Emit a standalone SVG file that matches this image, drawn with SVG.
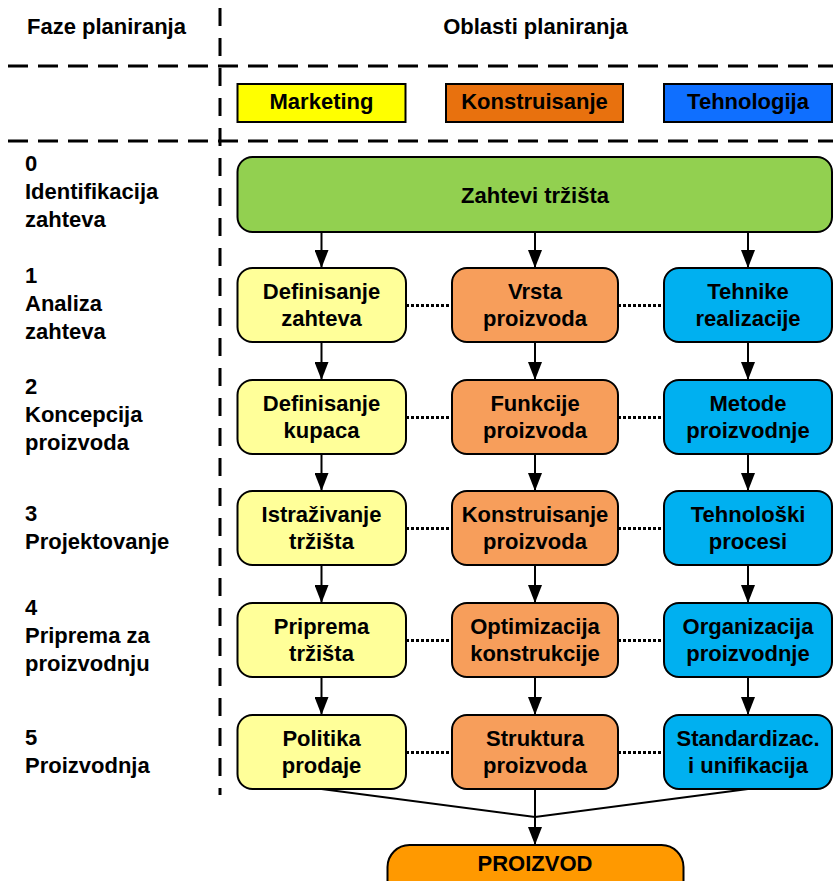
<svg xmlns="http://www.w3.org/2000/svg" width="833" height="881" viewBox="0 0 833 881">
<style>
text{font-family:"Liberation Sans",Arial,sans-serif;font-weight:bold;font-size:22px;fill:#000}
.c{text-anchor:middle}
.box{stroke:#000;stroke-width:2}
.y{fill:#FFFF99}.o{fill:#F79E5B}.b{fill:#00B0F0}
.ln{stroke:#000;stroke-width:2;fill:none}
.dot{stroke:#000;stroke-width:3;stroke-dasharray:3 2;fill:none}
.dash{stroke:#000;stroke-width:3;fill:none}
</style>
<defs>
<marker id="ah" viewBox="0 0 18 14" refX="18" refY="7" markerWidth="18" markerHeight="14" markerUnits="userSpaceOnUse" orient="auto">
<path d="M0,0 L18,7 L0,14 Z" fill="#000"/>
</marker>
</defs>
<rect width="833" height="881" fill="#fff"/>
<g id="grid">
<line class="dash" x1="220" y1="8" x2="220" y2="795" stroke-dasharray="18 12"/>
<line class="dash" x1="8" y1="66" x2="833" y2="66" stroke-dasharray="20 10"/>
<line class="dash" x1="8" y1="141" x2="833" y2="141" stroke-dasharray="20 10"/>
</g>
<g id="headers">
<text class="c" x="106.5" y="34">Faze planiranja</text>
<text class="c" x="535.5" y="34">Oblasti planiranja</text>
</g>
<g id="legend">
<g id="leg-marketing"><rect class="box" x="237.5" y="84" width="168" height="38" fill="#FFFF00"/><text class="c" x="321.5" y="109">Marketing</text></g>
<g id="leg-konstruisanje"><rect class="box" x="446" y="84" width="177" height="38" fill="#E8710E"/><text class="c" x="534.5" y="109">Konstruisanje</text></g>
<g id="leg-tehnologija"><rect class="box" x="664" y="84" width="168" height="38" fill="#0F6FFF"/><text class="c" x="748" y="109">Tehnologija</text></g>
</g>
<g id="phases">
<text x="25" y="171">0</text><text x="25" y="199">Identifikacija</text><text x="25" y="227">zahteva</text>
<text x="25" y="283">1</text><text x="25" y="311">Analiza</text><text x="25" y="339">zahteva</text>
<text x="25" y="394">2</text><text x="25" y="422">Koncepcija</text><text x="25" y="450">proizvoda</text>
<text x="25" y="521">3</text><text x="25" y="549">Projektovanje</text>
<text x="25" y="615">4</text><text x="25" y="643">Priprema za</text><text x="25" y="671">proizvodnju</text>
<text x="25" y="745">5</text><text x="25" y="773">Proizvodnja</text>
</g>
<g id="connectors">
<line class="ln" x1="321.5" y1="232" x2="321.5" y2="268" marker-end="url(#ah)"/>
<line class="ln" x1="535" y1="232" x2="535" y2="268" marker-end="url(#ah)"/>
<line class="ln" x1="748" y1="232" x2="748" y2="268" marker-end="url(#ah)"/>
<line class="ln" x1="321.5" y1="342" x2="321.5" y2="380" marker-end="url(#ah)"/>
<line class="ln" x1="535" y1="342" x2="535" y2="380" marker-end="url(#ah)"/>
<line class="ln" x1="748" y1="342" x2="748" y2="380" marker-end="url(#ah)"/>
<line class="ln" x1="321.5" y1="454" x2="321.5" y2="491" marker-end="url(#ah)"/>
<line class="ln" x1="535" y1="454" x2="535" y2="491" marker-end="url(#ah)"/>
<line class="ln" x1="748" y1="454" x2="748" y2="491" marker-end="url(#ah)"/>
<line class="ln" x1="321.5" y1="565" x2="321.5" y2="603" marker-end="url(#ah)"/>
<line class="ln" x1="535" y1="565" x2="535" y2="603" marker-end="url(#ah)"/>
<line class="ln" x1="748" y1="565" x2="748" y2="603" marker-end="url(#ah)"/>
<line class="ln" x1="321.5" y1="677" x2="321.5" y2="715" marker-end="url(#ah)"/>
<line class="ln" x1="535" y1="677" x2="535" y2="715" marker-end="url(#ah)"/>
<line class="ln" x1="748" y1="677" x2="748" y2="715" marker-end="url(#ah)"/>
<line class="dot" x1="406" y1="305.5" x2="452" y2="305.5"/><line class="dot" x1="618" y1="305.5" x2="664" y2="305.5"/>
<line class="dot" x1="406" y1="417.5" x2="452" y2="417.5"/><line class="dot" x1="618" y1="417.5" x2="664" y2="417.5"/>
<line class="dot" x1="406" y1="528.5" x2="452" y2="528.5"/><line class="dot" x1="618" y1="528.5" x2="664" y2="528.5"/>
<line class="dot" x1="406" y1="640.5" x2="452" y2="640.5"/><line class="dot" x1="618" y1="640.5" x2="664" y2="640.5"/>
<line class="dot" x1="406" y1="752.5" x2="452" y2="752.5"/><line class="dot" x1="618" y1="752.5" x2="664" y2="752.5"/>
<polyline class="ln" points="321.5,789 535,817 748,789"/>
<line class="ln" x1="535" y1="789" x2="535" y2="845" marker-end="url(#ah)"/>
</g>
<g id="n-zahtevi"><rect class="box" x="237.5" y="157" width="594.5" height="75" rx="15" fill="#92D050"/><text class="c" x="535" y="202.5">Zahtevi tržišta</text></g>
<g id="n-r1y"><rect class="box y" x="237.5" y="268" width="168.5" height="74" rx="15"/><text class="c" x="321.5" y="299">Definisanje</text><text class="c" x="321.5" y="326">zahteva</text></g>
<g id="n-r1o"><rect class="box o" x="452" y="268" width="166" height="74" rx="15"/><text class="c" x="535" y="299">Vrsta</text><text class="c" x="535" y="326">proizvoda</text></g>
<g id="n-r1b"><rect class="box b" x="664" y="268" width="168" height="74" rx="15"/><text class="c" x="748" y="299">Tehnike</text><text class="c" x="748" y="326">realizacije</text></g>
<g id="n-r2y"><rect class="box y" x="237.5" y="380" width="168.5" height="74" rx="15"/><text class="c" x="321.5" y="411">Definisanje</text><text class="c" x="321.5" y="438">kupaca</text></g>
<g id="n-r2o"><rect class="box o" x="452" y="380" width="166" height="74" rx="15"/><text class="c" x="535" y="411">Funkcije</text><text class="c" x="535" y="438">proizvoda</text></g>
<g id="n-r2b"><rect class="box b" x="664" y="380" width="168" height="74" rx="15"/><text class="c" x="748" y="411">Metode</text><text class="c" x="748" y="438">proizvodnje</text></g>
<g id="n-r3y"><rect class="box y" x="237.5" y="491" width="168.5" height="74" rx="15"/><text class="c" x="321.5" y="522">Istraživanje</text><text class="c" x="321.5" y="549">tržišta</text></g>
<g id="n-r3o"><rect class="box o" x="452" y="491" width="166" height="74" rx="15"/><text class="c" x="535" y="522">Konstruisanje</text><text class="c" x="535" y="549">proizvoda</text></g>
<g id="n-r3b"><rect class="box b" x="664" y="491" width="168" height="74" rx="15"/><text class="c" x="748" y="522">Tehnološki</text><text class="c" x="748" y="549">procesi</text></g>
<g id="n-r4y"><rect class="box y" x="237.5" y="603" width="168.5" height="74" rx="15"/><text class="c" x="321.5" y="634">Priprema</text><text class="c" x="321.5" y="661">tržišta</text></g>
<g id="n-r4o"><rect class="box o" x="452" y="603" width="166" height="74" rx="15"/><text class="c" x="535" y="634">Optimizacija</text><text class="c" x="535" y="661">konstrukcije</text></g>
<g id="n-r4b"><rect class="box b" x="664" y="603" width="168" height="74" rx="15"/><text class="c" x="748" y="634">Organizacija</text><text class="c" x="748" y="661">proizvodnje</text></g>
<g id="n-r5y"><rect class="box y" x="237.5" y="715" width="168.5" height="74" rx="15"/><text class="c" x="321.5" y="746">Politika</text><text class="c" x="321.5" y="773">prodaje</text></g>
<g id="n-r5o"><rect class="box o" x="452" y="715" width="166" height="74" rx="15"/><text class="c" x="535" y="746">Struktura</text><text class="c" x="535" y="773">proizvoda</text></g>
<g id="n-r5b"><rect class="box b" x="664" y="715" width="168" height="74" rx="15"/><text class="c" x="748" y="746">Standardizac.</text><text class="c" x="748" y="773">i unifikacija</text></g>
<g id="n-proizvod"><rect class="box" x="387.5" y="845" width="296" height="60" rx="22" fill="#FF9900"/><text class="c" x="535" y="871">PROIZVOD</text></g>
</svg>
